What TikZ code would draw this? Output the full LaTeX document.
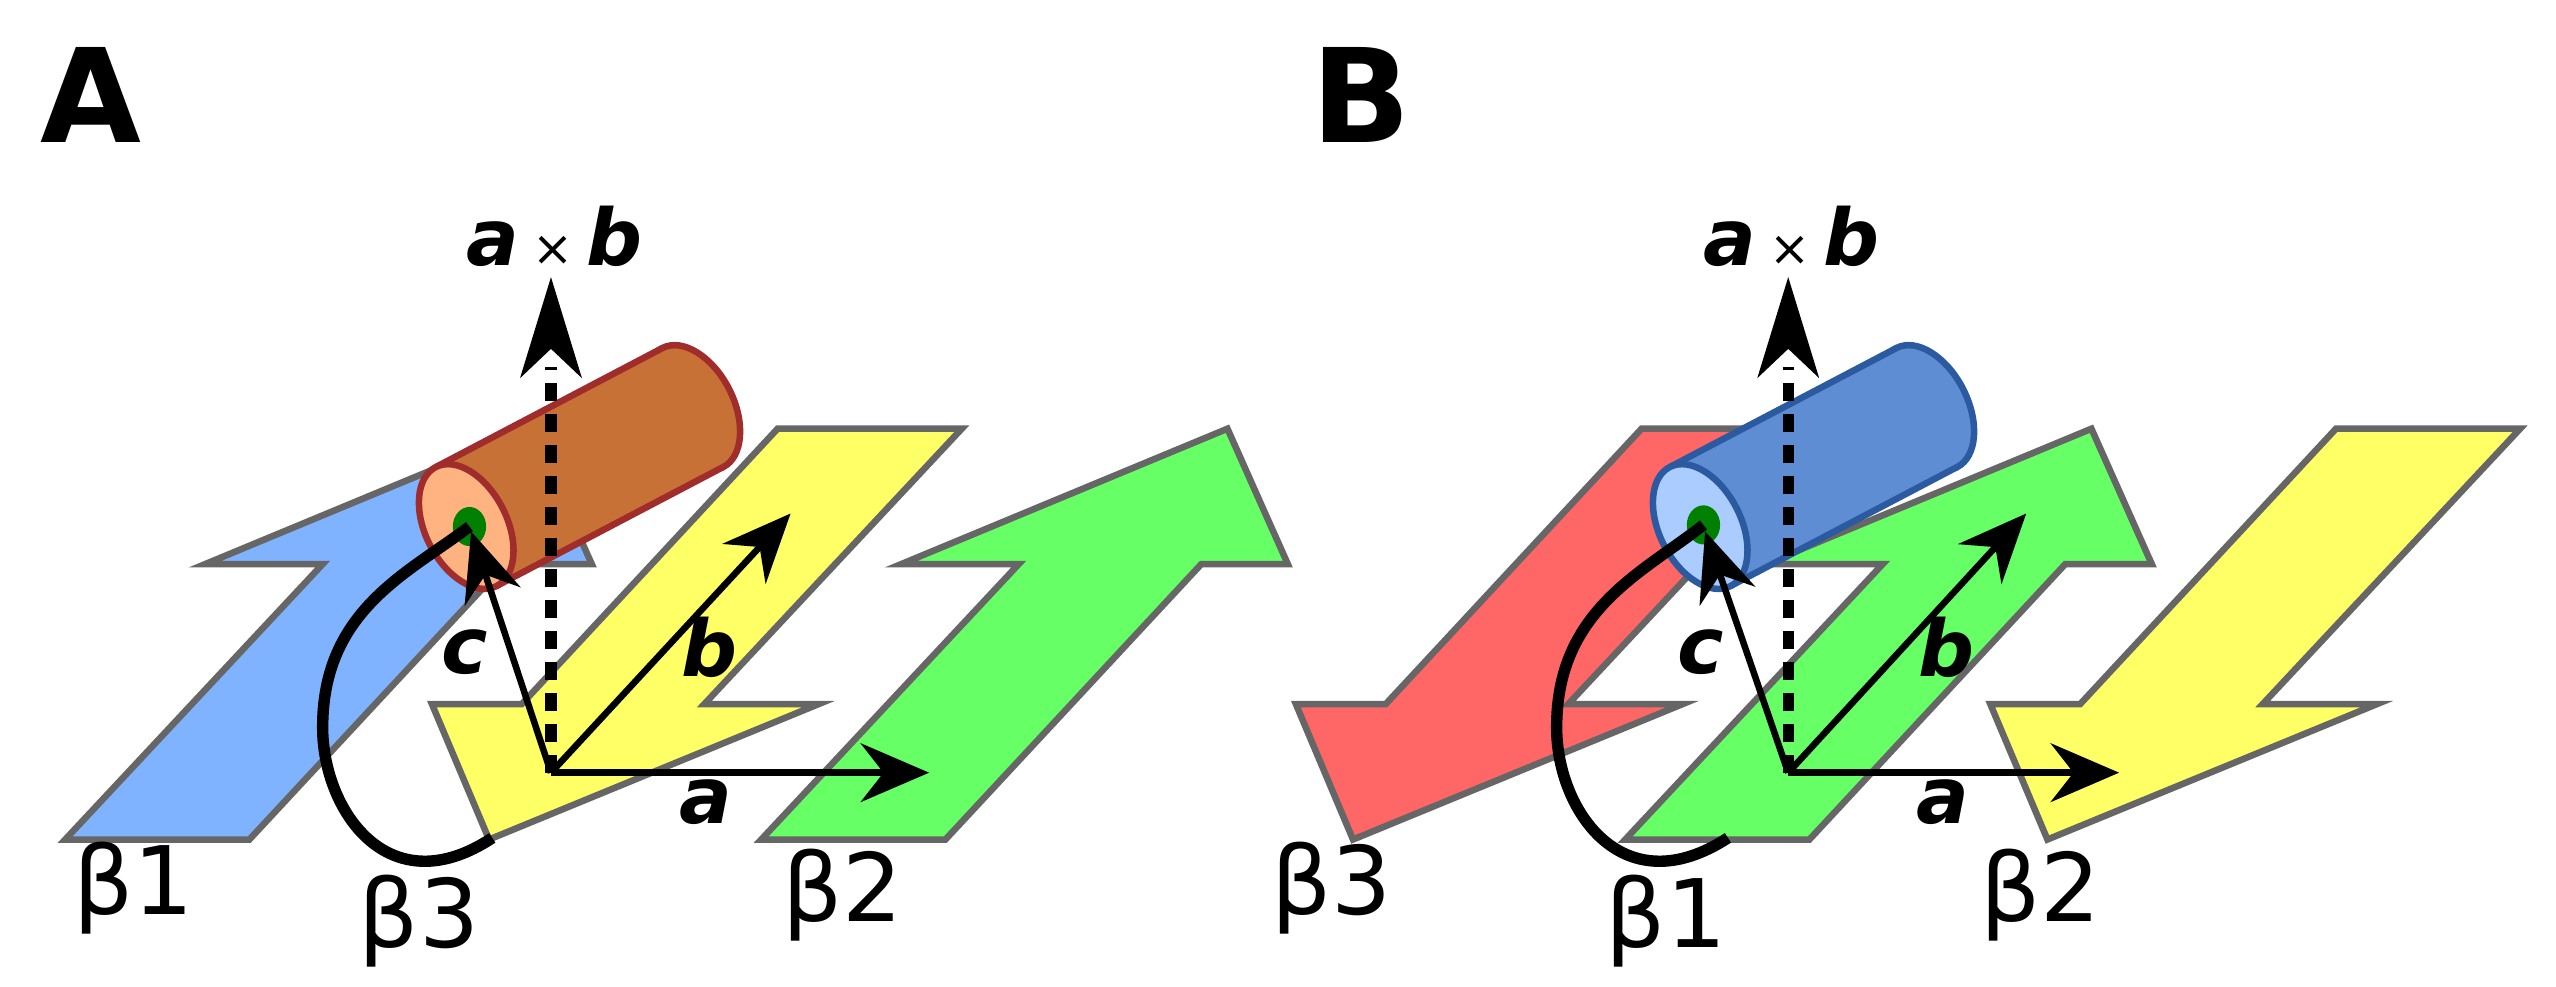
\documentclass[border=0pt]{standalone}
\usepackage{tikz}
\usepackage{graphicx}
\usepackage{fontspec}
\setmainfont{DejaVu Sans}
\usetikzlibrary{arrows.meta}
\definecolor{cblue}{HTML}{80B3FF}
\definecolor{cyel}{HTML}{FFFF66}
\definecolor{cgrn}{HTML}{66FF66}
\definecolor{cred}{HTML}{FF6666}
\definecolor{cgray}{HTML}{666666}
\definecolor{brn}{HTML}{C87137}
\definecolor{brnd}{HTML}{A02C2C}
\definecolor{brnf}{HTML}{FFB380}
\definecolor{hbl}{HTML}{5F8DD3}
\definecolor{hbld}{HTML}{2C5AA0}
\definecolor{hblf}{HTML}{AACCFF}
\definecolor{dgrn}{HTML}{008000}
\tikzset{
 strand/.style={draw=cgray,line width=4pt,line join=miter},
 vec/.style={line width=4pt,-{Stealth[length=42pt,width=36pt,inset=14pt]}},
 lbl/.style={font=\fontsize{48}{48}\selectfont\bfseries\itshape},
 blbl/.style={font=\fontsize{58}{58}\selectfont},
 plbl/.style={font=\fontsize{80}{80}\selectfont\bfseries},
 loop/.style={line width=7pt,line cap=butt},
}
\newcommand{\upstrand}[2]{\path[strand,fill=#2,shift={(#1,0)}] (40,515)--(198,346)--(126,346)--(326,263)--(363,346)--(310,346)--(153,515)--cycle;}
\newcommand{\dnstrand}[2]{\path[strand,fill=#2,shift={(#1,0)}] (477,263)--(590,263)--(432,432)--(502,432)--(300,515)--(265,432)--(320,432)--cycle;}
\newcommand{\helix}[4]{%
 \begin{scope}[shift={(#1,0)}]
 \path[draw=#3,fill=#2,line width=4pt] (425,250) ellipse [x radius=25,y radius=41,rotate=27];
 \path[fill=#2] (267.4,286.5)--(406.4,213.5)--(443.6,286.5)--(304.6,359.5)--cycle;
 \draw[#3,line width=4pt] (267.4,286.5)--(406.4,213.5) (304.6,359.5)--(443.6,286.5);
 \path[draw=#3,fill=#4,line width=4pt] (286,323) ellipse [x radius=25,y radius=41,rotate=27];
 \end{scope}}
\begin{document}
\scalebox{1.63}{%
\begin{tikzpicture}[x=1pt,y=-1pt]
\useasboundingbox (0,0) rectangle (1568,605);
% Panel A
\node[plbl] (pA) at (56,58) {A};
\upstrand{0}{cblue}
\dnstrand{0}{cyel}
\upstrand{427}{cgrn}
\helix{0}{brn}{brnd}{brnf}
\coordinate (OA) at (338,474);
\node[circle,fill=dgrn,minimum width=20pt,minimum height=24pt,inner sep=0pt,xscale=0.85] (dA) at (288,323) {};
\coordinate (eA) at (302,514);
\draw[loop] (dA.center) .. controls (250,352) and (196,375) .. (198,450) .. controls (200,500) and (240,555) .. (eA);
\draw[line width=7pt,dash pattern=on 11pt off 8pt] (OA) -- (338,225);
\coordinate (zA) at (338,170);
\path[fill=black] (zA) -- (357,232) -- (338,214) -- (319,232) -- cycle;
\coordinate (aA) at (570,474);
\coordinate (bA) at (485,315);
\coordinate (cA) at (289,326);
\draw[vec] (OA) -- (aA);
\draw[vec] (OA) -- (bA);
\draw[vec] (OA) -- (cA);
\node[lbl] (laA) at (433,492) {a};
\node[lbl] (lbA) at (435,397) {b};
\node[lbl] (lcA) at (285,400) {c};
\node[lbl] (lxA) at (340,145) {a\,{\mdseries\upshape\fontsize{30}{30}\selectfont×}\,b};
\node[blbl] (b1A) at (82,545) {β1};
\node[blbl] (b3A) at (257,565) {β3};
\node[blbl] (b2A) at (517,549) {β2};
% Panel B
\node[plbl] (pB) at (835,58) {B};
\dnstrand{530}{cred}
\upstrand{957}{cgrn}
\dnstrand{956}{cyel}
\helix{757}{hbl}{hbld}{hblf}
\coordinate (OB) at (1097,474);
\node[circle,fill=dgrn,minimum width=20pt,minimum height=24pt,inner sep=0pt,xscale=0.85] (dB) at (1045,322) {};
\coordinate (eB) at (1060,514);
\draw[loop] (dB.center) .. controls (1007,352) and (953,375) .. (955,450) .. controls (957,500) and (997,555) .. (eB);
\draw[line width=7pt,dash pattern=on 11pt off 8pt] (OB) -- (1097,225);
\coordinate (zB) at (1097,170);
\path[fill=black] (zB) -- (1116,232) -- (1097,214) -- (1078,232) -- cycle;
\coordinate (aB) at (1300,474);
\coordinate (bB) at (1243,315);
\coordinate (cB) at (1046,326);
\draw[vec] (OB) -- (aB);
\draw[vec] (OB) -- (bB);
\draw[vec] (OB) -- (cB);
\node[lbl] (laB) at (1192,492) {a};
\node[lbl] (lbB) at (1194,397) {b};
\node[lbl] (lcB) at (1043,400) {c};
\node[lbl] (lxB) at (1099,145) {a\,{\mdseries\upshape\fontsize{30}{30}\selectfont×}\,b};
\node[blbl] (b3B) at (817,545) {β3};
\node[blbl] (b1B) at (1022,565) {β1};
\node[blbl] (b2B) at (1252,549) {β2};
\end{tikzpicture}}
\end{document}
